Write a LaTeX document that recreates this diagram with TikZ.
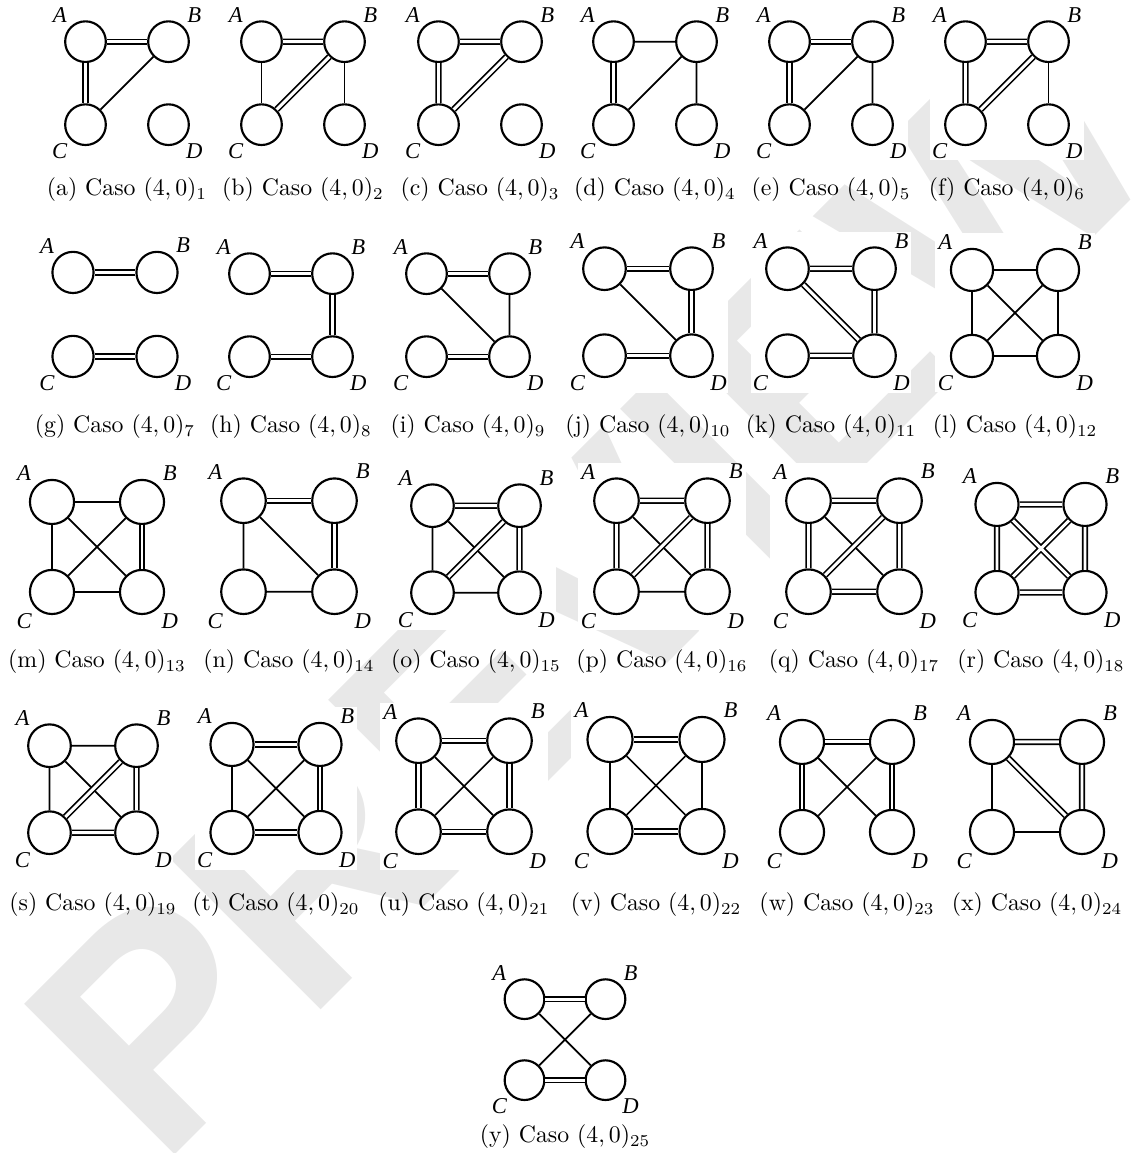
\documentclass[tikz,border=0pt]{standalone}
\usepackage{amsmath,amssymb}
\usepackage{fontspec}
\newfontfamily\lblfont{Liberation Serif}
\newfontfamily\wmfont{Liberation Sans}
\usepackage{tikz}
\usetikzlibrary{positioning}

\begin{document}
\begin{tikzpicture}[x=0.42pt,y=-0.42pt,
  vert/.style={draw,circle,line width=0.9pt,inner sep=0pt,minimum size=#1},
  lbl/.style={font=\lblfont\itshape\fontsize{9.5}{10}\selectfont,inner sep=0pt},
  capt/.style={font=\normalsize,inner sep=0pt},
  sgl/.style={line width=0.72pt},
  dbl/.style={line width=0.7pt,double,double distance=1.25pt},
  wm/.style={text=black!9,rotate=45,inner sep=0pt,
             font=\wmfont\bfseries\fontsize{130}{130}\selectfont}]
  \useasboundingbox (0,0) rectangle (1131,1153);
  \node[wm] (wm) at (590,590) {PREVIEW};
  % name / centre x / bottom of circles / spacing / index / caption y
  \foreach \n/\x/\b/\s/\k/\c in {
      a/127/145/83/1/190, b/303/145/83/2/190, c/480/145/83/3/190,
      d/655/145/83/4/190, e/831/145/83/5/190, f/1007/145/83/6/190,
      g/115/377/84/7/427, h/291/377/83/8/427, i/468/377/83/9/427,
      j/648/377/87/10/427, k/831/377/87/11/427, l/1015/377/86/12/427,
      m/97/614/90/13/662, n/289/614/91/14/662, o/476/614/87/15/662,
      p/662/614/91/16/662, q/854/614/91/17/662, r/1041/614/88/18/662,
      s/93/854/87/19/905, t/276/854/88/20/905, u/464/854/91/21/905,
      v/656/854/92/22/905, w/847/854/90/23/905, x/1037/854/90/24/905,
      y/565/1100/81/25/1137}{
    \pgfmathsetmacro\h{\s/2}
    \pgfmathsetmacro\cy{\b-0.245*\s}
    \pgfmathsetmacro\ay{\cy-\s}
    \pgfmathsetmacro\d{0.49*\s*0.42}
    \pgfmathsetmacro\lx{0.31*\s}
    \pgfmathsetmacro\ly{0.32*\s}
    % white sheet of each small graph
    \fill[white] (\x-\h-\lx-10,\ay-\ly-9) rectangle (\x+\h+\lx+10,\cy+\ly+9);
    \node[vert=\d pt] (\n-A) at (\x-\h,\ay) {};
    \node[vert=\d pt] (\n-B) at (\x+\h,\ay) {};
    \node[vert=\d pt] (\n-C) at (\x-\h,\cy) {};
    \node[vert=\d pt] (\n-D) at (\x+\h,\cy) {};
    \node[lbl] (\n-la) at (\x-\h-\lx,\ay-\ly) {A};
    \node[lbl] (\n-lb) at (\x+\h+\lx,\ay-\ly) {B};
    \node[lbl] (\n-lc) at (\x-\h-\lx,\cy+\ly) {C};
    \node[lbl] (\n-ld) at (\x+\h+\lx,\cy+\ly) {D};
    \node[capt] (\n-cap) at (\x,\c) {(\n) Caso $(4,0)_{\k}$};
  }
  % row 1
  \draw[sgl] (a-B)--(a-C); \draw[dbl] (a-A)--(a-B) (a-A)--(a-C);
  \draw[sgl] (b-A)--(b-C) (b-B)--(b-D); \draw[dbl] (b-A)--(b-B) (b-B)--(b-C);
  \draw[dbl] (c-A)--(c-B) (c-A)--(c-C) (c-B)--(c-C);
  \draw[sgl] (d-A)--(d-B) (d-B)--(d-C) (d-B)--(d-D); \draw[dbl] (d-A)--(d-C);
  \draw[sgl] (e-B)--(e-C) (e-B)--(e-D); \draw[dbl] (e-A)--(e-B) (e-A)--(e-C);
  \draw[sgl] (f-B)--(f-D); \draw[dbl] (f-A)--(f-B) (f-A)--(f-C) (f-B)--(f-C);
  % row 2
  \draw[dbl] (g-A)--(g-B) (g-C)--(g-D);
  \draw[dbl] (h-A)--(h-B) (h-C)--(h-D) (h-B)--(h-D);
  \draw[sgl] (i-A)--(i-D) (i-B)--(i-D); \draw[dbl] (i-A)--(i-B) (i-C)--(i-D);
  \draw[sgl] (j-A)--(j-D); \draw[dbl] (j-A)--(j-B) (j-C)--(j-D) (j-B)--(j-D);
  \draw[dbl] (k-A)--(k-B) (k-C)--(k-D) (k-A)--(k-D) (k-B)--(k-D);
  \draw[sgl] (l-A)--(l-B) (l-A)--(l-C) (l-B)--(l-D) (l-C)--(l-D) (l-A)--(l-D) (l-B)--(l-C);
  % row 3
  \draw[sgl] (m-A)--(m-B) (m-A)--(m-C) (m-C)--(m-D) (m-A)--(m-D) (m-B)--(m-C); \draw[dbl] (m-B)--(m-D);
  \draw[sgl] (n-A)--(n-C) (n-C)--(n-D) (n-A)--(n-D); \draw[dbl] (n-A)--(n-B) (n-B)--(n-D);
  \draw[sgl] (o-A)--(o-C) (o-C)--(o-D) (o-A)--(o-D); \draw[dbl] (o-A)--(o-B) (o-B)--(o-D) (o-B)--(o-C);
  \draw[sgl] (p-C)--(p-D) (p-A)--(p-D); \draw[dbl] (p-A)--(p-B) (p-A)--(p-C) (p-B)--(p-D) (p-B)--(p-C);
  \draw[sgl] (q-A)--(q-D); \draw[dbl] (q-A)--(q-B) (q-A)--(q-C) (q-B)--(q-D) (q-C)--(q-D) (q-B)--(q-C);
  \draw[dbl] (r-A)--(r-B) (r-A)--(r-C) (r-B)--(r-D) (r-C)--(r-D) (r-A)--(r-D) (r-B)--(r-C);
  % row 4
  \draw[sgl] (s-A)--(s-B) (s-A)--(s-C) (s-A)--(s-D); \draw[dbl] (s-B)--(s-D) (s-C)--(s-D) (s-B)--(s-C);
  \draw[sgl] (t-A)--(t-C) (t-A)--(t-D) (t-B)--(t-C); \draw[dbl] (t-A)--(t-B) (t-B)--(t-D) (t-C)--(t-D);
  \draw[sgl] (u-A)--(u-D) (u-B)--(u-C); \draw[dbl] (u-A)--(u-B) (u-A)--(u-C) (u-B)--(u-D) (u-C)--(u-D);
  \draw[sgl] (v-A)--(v-C) (v-B)--(v-D) (v-A)--(v-D) (v-B)--(v-C); \draw[dbl] (v-A)--(v-B) (v-C)--(v-D);
  \draw[sgl] (w-A)--(w-D) (w-B)--(w-C); \draw[dbl] (w-A)--(w-B) (w-A)--(w-C) (w-B)--(w-D);
  \draw[sgl] (x-A)--(x-C) (x-C)--(x-D); \draw[dbl] (x-A)--(x-B) (x-B)--(x-D) (x-A)--(x-D);
  % row 5
  \draw[sgl] (y-A)--(y-D) (y-B)--(y-C); \draw[dbl] (y-A)--(y-B) (y-C)--(y-D);
\end{tikzpicture}
\end{document}
